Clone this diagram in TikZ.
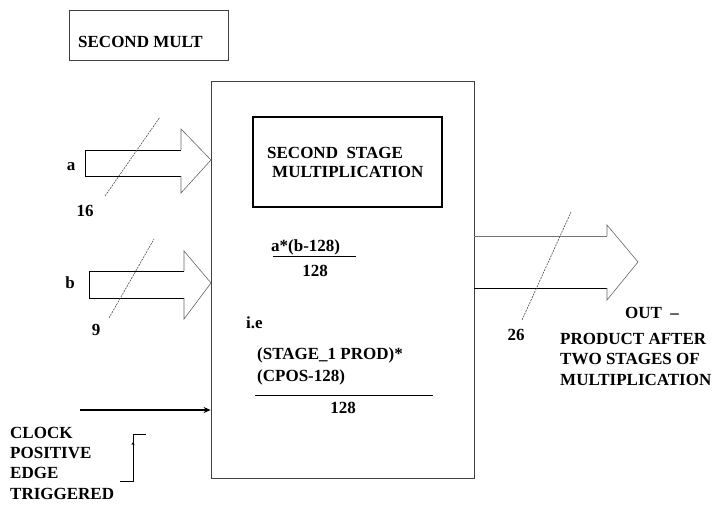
\documentclass[tikz,border=0pt]{standalone}
\usepackage{fontspec}
\setmainfont{Liberation Serif}
\usetikzlibrary{arrows.meta, positioning}

\begin{document}
\begin{tikzpicture}[x=1pt, y=-1pt, >=Stealth,
		lbl/.style={inner sep=0pt, font=\fontsize{17}{19}\selectfont\bfseries},
		box/.style={draw=black!75, line width=0.8pt},
		shaft/.style={draw=black, line width=0.8pt},
		head/.style={draw=black!60, line width=0.6pt},
		bus/.style={black!70, dashed, dash pattern=on 2pt off 1pt, line width=0.6pt}]
		
		\useasboundingbox (0,0) rectangle (717,505);
		
		% Titel
		\node[box, minimum width=159pt, minimum height=50pt] (title) at (148.5,35) {};
		\node[lbl, anchor=west] (titletxt) at (78,42) {SECOND MULT};
		
		% Hauptblock
		\node[box, minimum width=263pt, minimum height=397pt] (main) at (342.5,279.5) {};
		\node[draw=black, line width=1.2pt, minimum width=189pt, minimum height=90pt] (stage) at (347.5,162) {};
		\node[lbl, anchor=west] (stage1) at (267,153) {SECOND \ STAGE};
		\node[lbl, anchor=west] (stage2) at (272,172) {MULTIPLICATION};
		
		% Formel
		\node[lbl, anchor=west] (num1) at (271,247) {a*(b-128)};
		\node[lbl] (den1) at (315,271) {128};
		\draw[line width=0.8pt] (273,256) -- (356,256);
		\node[lbl, anchor=west] (ie) at (246,323) {i.e};
		\node[lbl, anchor=west] (num2) at (257,355) {(STAGE\_1 PROD)*};
		\node[lbl, anchor=west] (num3) at (257,377) {(CPOS-128)};
		\draw[line width=1pt] (255,395) -- (433,395);
		\node[lbl] (den2) at (343,408) {128};
		
		% Eingang a
		\coordinate (tipa) at (211,160);
		\draw[shaft] (181,150) -- (85,150) -- (85,176) -- (181,176);
		\draw[head] (181,150) -- (181,129) -- (tipa) -- (181,193) -- (181,176);
		\draw[bus] (105,196) -- (160,117);
		\node[lbl] (ina) at (71,167) {a};
		\node[lbl] (wa) at (85,211) {16};
		
		% Eingang b
		\coordinate (tipb) at (211,283);
		\draw[shaft] (184,271) -- (89,271) -- (89,298) -- (184,298);
		\draw[head] (184,271) -- (184,251) -- (tipb) -- (184,319) -- (184,298);
		\draw[bus] (109,318) -- (154,239);
		\node[lbl] (inb) at (70,283) {b};
		\node[lbl] (wb) at (96,330) {9};
		
		% Takt
		\coordinate (clk) at (80,410);
		\draw[->, line width=2pt, >={Stealth[length=7pt,width=6pt]}] (clk) -- (main.west |- clk);
		\node[lbl, anchor=west] (clk1) at (10,433) {CLOCK};
		\node[lbl, anchor=west] (clk2) at (10,453) {POSITIVE};
		\node[lbl, anchor=west] (clk3) at (10,473) {EDGE};
		\node[lbl, anchor=west] (clk4) at (10,494) {TRIGGERED};
		\draw[line width=0.8pt] (120,481) -- (133,481) -- (133,434) -- (146,434);
		\draw[->, line width=0.8pt, >={Stealth[length=3pt,width=3pt]}] (133,448) -- (133,442);
		
		% Ausgang
		\coordinate (tipo) at (638,262);
		\draw[draw=black!55, line width=0.8pt] (main.east |- 0,236) -- (607,236);
		\draw[shaft] (main.east |- 0,288) -- (607,288);
		\draw[head] (607,236) -- (607,225) -- (tipo) -- (607,300) -- (607,288);
		\draw[bus] (522,320) -- (571,212);
		\node[lbl] (wo) at (516,335) {26};
		\node[lbl] (out1) at (652,313) {OUT \ --};
		\node[lbl, anchor=west] (out2) at (560,339) {PRODUCT AFTER};
		\node[lbl, anchor=west] (out3) at (560,359) {TWO STAGES OF};
		\node[lbl, anchor=west] (out4) at (560,380) {MULTIPLICATION};
		
	\end{tikzpicture}
\end{document}
